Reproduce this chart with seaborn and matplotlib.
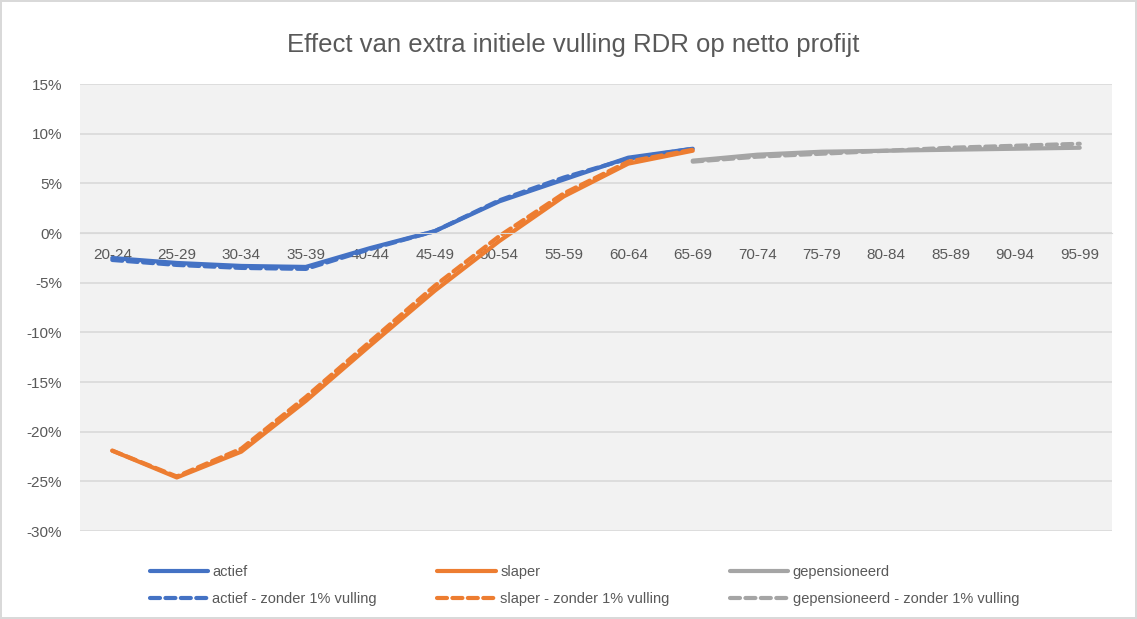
import numpy as np
import pandas as pd
import matplotlib
matplotlib.use("Agg")
import matplotlib.pyplot as plt
import seaborn as sns
from matplotlib.ticker import FuncFormatter

# Age groups on the x axis
categories = ["20-24", "25-29", "30-34", "35-39", "40-44", "45-49", "50-54", "55-59",
              "60-64", "65-69", "70-74", "75-79", "80-84", "85-89", "90-94", "95-99"]

# Values in %
actief = [-2.5, -3.0, -3.3, -3.4, -1.5, 0.2, 3.2, 5.4, 7.6, 8.5]
actief_zonder = [-2.7, -3.2, -3.5, -3.6, -1.6, 0.2, 3.3, 5.6, 7.5, 8.5]
slaper = [-21.9, -24.6, -22.0, -16.9, -11.3, -5.8, -0.8, 3.7, 7.0, 8.3]
slaper_zonder = [-21.9, -24.5, -21.7, -16.5, -10.9, -5.3, -0.3, 4.0, 7.2, 8.4]
gepensioneerd = [7.3, 7.9, 8.2, 8.3, 8.4, 8.5, 8.6]
gepensioneerd_zonder = [7.2, 7.7, 8.0, 8.3, 8.6, 8.8, 9.0]

sns.set_style("white")
plt.rcParams["font.family"] = ["Liberation Sans", "DejaVu Sans"]

fig, ax = plt.subplots(figsize=(11.37, 6.19), dpi=100)
fig.subplots_adjust(left=0.0704, right=0.978, top=0.864, bottom=0.142)
fig.patch.set_edgecolor("#D9D9D9")
fig.patch.set_linewidth(1.5)
ax.set_facecolor("#F2F2F2")

blue, orange, grey = "#4472C4", "#ED7D31", "#A5A5A5"
dash = (0, (2.4, 1.3))

# order so that the 3-column legend reads row by row like the original
series = [
    ("actief", actief, 0, blue, "-"),
    ("actief - zonder 1% vulling", actief_zonder, 0, blue, dash),
    ("slaper", slaper, 0, orange, "-"),
    ("slaper - zonder 1% vulling", slaper_zonder, 0, orange, dash),
    ("gepensioneerd", gepensioneerd, 9, grey, "-"),
    ("gepensioneerd - zonder 1% vulling", gepensioneerd_zonder, 9, grey, dash),
]
for name, vals, start, color, ls in series:
    pos = np.arange(start, start + len(vals))
    df = pd.DataFrame({"x": pos, "y": np.array(vals) / 100})
    sns.lineplot(data=df, x="x", y="y", ax=ax, color=color, linewidth=3, linestyle=ls,
                 label=name, solid_capstyle="round", dash_capstyle="round")

ax.set_ylim(-0.30, 0.15)
ax.set_yticks(np.arange(-0.30, 0.151, 0.05))
ax.yaxis.set_major_formatter(FuncFormatter(lambda v, p: f"{int(round(v * 100))}%"))
ax.set_xlim(-0.5, len(categories) - 0.5)
ax.set_xticks(range(len(categories)))
ax.set_xticklabels(categories)
ax.grid(axis="y", color="#D9D9D9", linewidth=1.2)
ax.set_axisbelow(True)
for s in ["top", "right", "left"]:
    ax.spines[s].set_visible(False)
ax.spines["bottom"].set_position(("data", 0))
ax.spines["bottom"].set_color("#D9D9D9")
ax.tick_params(axis="both", length=0, labelsize=11, labelcolor="#595959")
ax.tick_params(axis="x", pad=11)
ax.tick_params(axis="y", pad=13)
ax.set_xlabel("")
ax.set_ylabel("")
fig.text(0.504, 0.928, "Effect van extra initiele vulling RDR op netto profijt",
         fontsize=18.5, color="#595959", ha="center", va="center")

h, l = ax.get_legend_handles_labels()
ax.get_legend().remove()
leg = fig.legend(h, l, loc="lower left", bbox_to_anchor=(0.12, 0.0), ncol=3,
                 frameon=False, fontsize=10.5, handlelength=4.0, columnspacing=4.15,
                 labelspacing=0.9, handletextpad=0.3)
for t in leg.get_texts():
    t.set_color("#595959")

fig.savefig("out.png", dpi=100)
